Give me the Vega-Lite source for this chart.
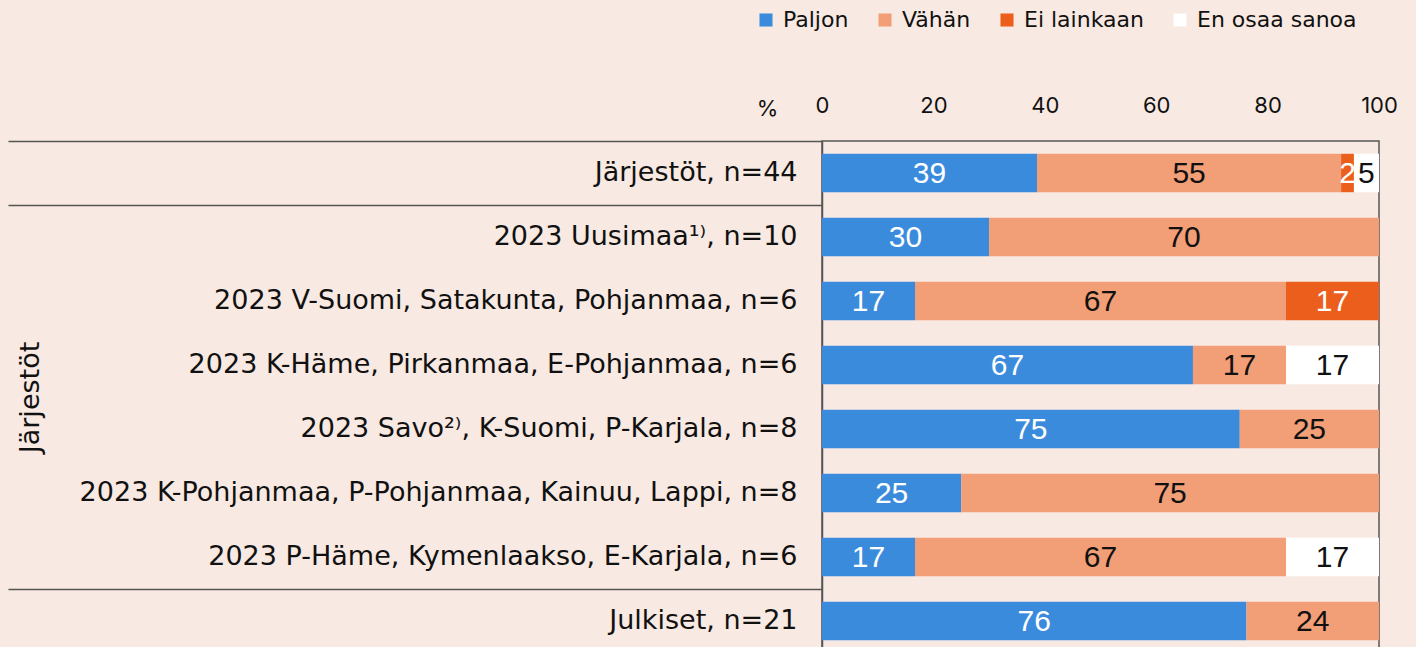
{
  "$schema": "https://vega.github.io/schema/vega-lite/v6.json",
  "autosize": {"type": "none"},
  "width": 557,
  "height": 512,
  "padding": {"left": 822, "top": 141, "right": 37, "bottom": 0},
  "background": "#F8E9E2",
  "config": {
    "view": {"stroke": "#555555", "strokeWidth": 1.5},
    "font": "Inter"
  },
  "data": {
    "values": [
      {"row": "Järjestöt, n=44", "cat": "Paljon", "o": 1, "pct": 38.6, "lbl": "39"},
      {"row": "Järjestöt, n=44", "cat": "Vähän", "o": 2, "pct": 54.6, "lbl": "55"},
      {"row": "Järjestöt, n=44", "cat": "Ei lainkaan", "o": 3, "pct": 2.3, "lbl": "2"},
      {"row": "Järjestöt, n=44", "cat": "En osaa sanoa", "o": 4, "pct": 4.5, "lbl": "5"},
      {"row": "2023 Uusimaa¹⁾, n=10", "cat": "Paljon", "o": 1, "pct": 30, "lbl": "30"},
      {"row": "2023 Uusimaa¹⁾, n=10", "cat": "Vähän", "o": 2, "pct": 70, "lbl": "70"},
      {"row": "2023 V-Suomi, Satakunta, Pohjanmaa, n=6", "cat": "Paljon", "o": 1, "pct": 16.7, "lbl": "17"},
      {"row": "2023 V-Suomi, Satakunta, Pohjanmaa, n=6", "cat": "Vähän", "o": 2, "pct": 66.6, "lbl": "67"},
      {"row": "2023 V-Suomi, Satakunta, Pohjanmaa, n=6", "cat": "Ei lainkaan", "o": 3, "pct": 16.7, "lbl": "17"},
      {"row": "2023 K-Häme, Pirkanmaa, E-Pohjanmaa, n=6", "cat": "Paljon", "o": 1, "pct": 66.6, "lbl": "67"},
      {"row": "2023 K-Häme, Pirkanmaa, E-Pohjanmaa, n=6", "cat": "Vähän", "o": 2, "pct": 16.7, "lbl": "17"},
      {"row": "2023 K-Häme, Pirkanmaa, E-Pohjanmaa, n=6", "cat": "En osaa sanoa", "o": 4, "pct": 16.7, "lbl": "17"},
      {"row": "2023 Savo²⁾, K-Suomi, P-Karjala, n=8", "cat": "Paljon", "o": 1, "pct": 75, "lbl": "75"},
      {"row": "2023 Savo²⁾, K-Suomi, P-Karjala, n=8", "cat": "Vähän", "o": 2, "pct": 25, "lbl": "25"},
      {"row": "2023 K-Pohjanmaa, P-Pohjanmaa, Kainuu, Lappi, n=8", "cat": "Paljon", "o": 1, "pct": 25, "lbl": "25"},
      {"row": "2023 K-Pohjanmaa, P-Pohjanmaa, Kainuu, Lappi, n=8", "cat": "Vähän", "o": 2, "pct": 75, "lbl": "75"},
      {"row": "2023 P-Häme, Kymenlaakso, E-Karjala, n=6", "cat": "Paljon", "o": 1, "pct": 16.7, "lbl": "17"},
      {"row": "2023 P-Häme, Kymenlaakso, E-Karjala, n=6", "cat": "Vähän", "o": 2, "pct": 66.6, "lbl": "67"},
      {"row": "2023 P-Häme, Kymenlaakso, E-Karjala, n=6", "cat": "En osaa sanoa", "o": 4, "pct": 16.7, "lbl": "17"},
      {"row": "Julkiset, n=21", "cat": "Paljon", "o": 1, "pct": 76.2, "lbl": "76"},
      {"row": "Julkiset, n=21", "cat": "Vähän", "o": 2, "pct": 23.8, "lbl": "24"}
    ]
  },
  "encoding": {
    "y": {
      "field": "row",
      "type": "nominal",
      "sort": [
        "Järjestöt, n=44",
        "2023 Uusimaa¹⁾, n=10",
        "2023 V-Suomi, Satakunta, Pohjanmaa, n=6",
        "2023 K-Häme, Pirkanmaa, E-Pohjanmaa, n=6",
        "2023 Savo²⁾, K-Suomi, P-Karjala, n=8",
        "2023 K-Pohjanmaa, P-Pohjanmaa, Kainuu, Lappi, n=8",
        "2023 P-Häme, Kymenlaakso, E-Karjala, n=6",
        "Julkiset, n=21"
      ],
      "scale": {"paddingInner": 0, "paddingOuter": 0},
      "axis": {
        "title": "Järjestöt",
        "titleFont": "DejaVu Sans",
        "titleFontSize": 27,
        "titleFontWeight": "normal",
        "titleColor": "#111111",
        "titleX": -784,
        "titleY": 256,
        "titleAngle": -90,
        "titleAlign": "center",
        "titleBaseline": "alphabetic",
        "domainColor": "#555555",
        "domainWidth": 1.5,
        "bandPosition": 0,
        "tickSize": 814,
        "tickWidth": 1.5,
        "tickColor": {
          "condition": {
            "test": "indexof(['Järjestöt, n=44', '2023 Uusimaa¹⁾, n=10', 'Julkiset, n=21'], datum.value) >= 0",
            "value": "#555555"
          },
          "value": "transparent"
        },
        "labelPadding": -789,
        "labelFont": "DejaVu Sans",
        "labelFontSize": 27,
        "labelColor": "#111111",
        "labelLimit": 0,
        "grid": false
      }
    }
  },
  "layer": [
    {
      "mark": {"type": "bar", "height": {"band": 0.6}},
      "encoding": {
        "x": {
          "field": "pct",
          "type": "quantitative",
          "stack": "zero",
          "scale": {"domain": [0, 100], "nice": false},
          "axis": {
            "orient": "top",
            "values": [0, 20, 40, 60, 80, 100],
            "ticks": false,
            "domain": false,
            "grid": false,
            "labelPadding": 24,
            "labelFont": "Inter",
            "labelFontSize": 22,
            "labelColor": "#111111",
            "labelFlush": false,
            "title": "%",
            "titleFont": "Inter",
            "titleFontSize": 22,
            "titleFontWeight": "normal",
            "titleColor": "#111111",
            "titleX": -55,
            "titleY": -33,
            "titleAlign": "center",
            "titleBaseline": "middle",
            "titleAngle": 0
          }
        },
        "color": {
          "field": "cat",
          "type": "nominal",
          "sort": ["Paljon", "Vähän", "Ei lainkaan", "En osaa sanoa"],
          "scale": {
            "domain": ["Paljon", "Vähän", "Ei lainkaan", "En osaa sanoa"],
            "range": ["#3B8BDD", "#F29E76", "#EB5E1C", "#FFFFFF"]
          },
          "legend": {
            "title": null,
            "orient": "none",
            "direction": "horizontal",
            "legendX": -67,
            "legendY": -132,
            "symbolType": "square",
            "symbolSize": 170,
            "symbolStrokeWidth": 0,
            "symbolOpacity": 1,
            "labelFont": "DejaVu Sans",
            "labelFontSize": 22,
            "labelColor": "#111111",
            "labelOffset": 6,
            "columnPadding": 25,
            "labelLimit": 0
          }
        },
        "order": {"field": "o", "type": "quantitative"}
      }
    },
    {
      "mark": {"type": "text", "font": "Liberation Sans", "fontSize": 30, "baseline": "middle", "align": "center", "dy": 1},
      "encoding": {
        "x": {"field": "pct", "type": "quantitative", "stack": "zero", "bandPosition": 0.5},
        "text": {"field": "lbl"},
        "order": {"field": "o", "type": "quantitative"},
        "color": {
          "condition": {"test": "datum.cat == 'Paljon' || datum.cat == 'Ei lainkaan'", "value": "#FFFFFF"},
          "value": "#111111"
        }
      }
    }
  ]
}
